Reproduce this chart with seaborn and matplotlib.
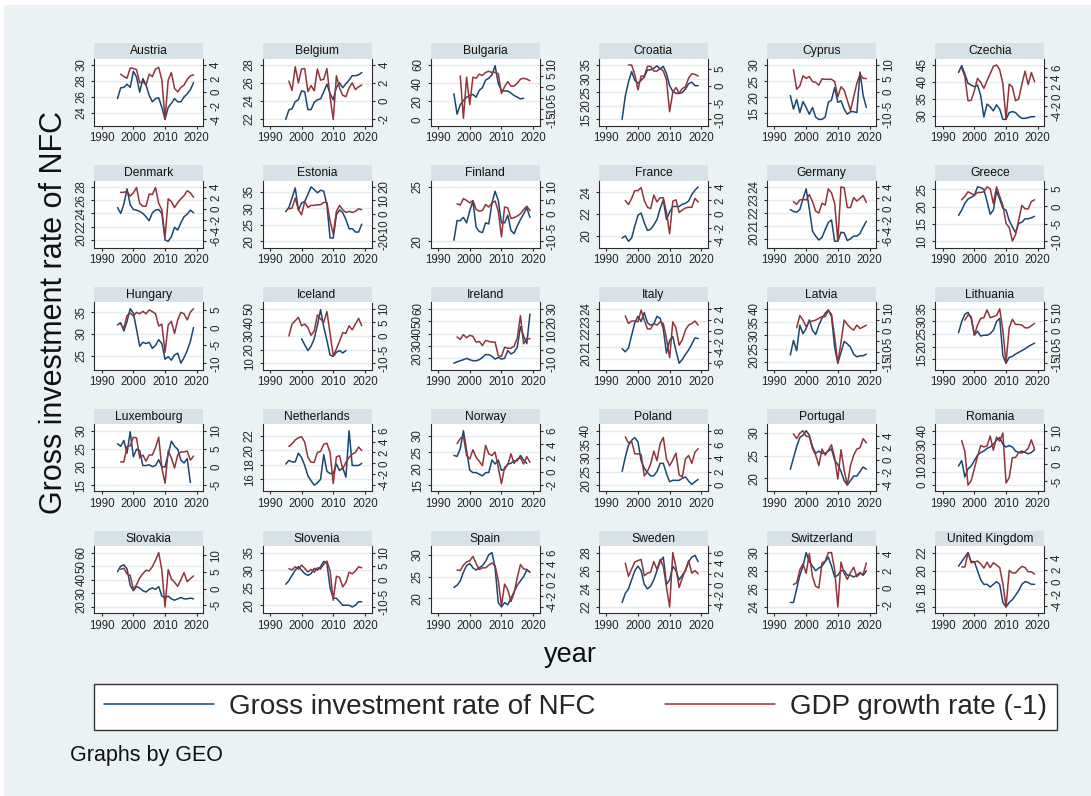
import matplotlib
matplotlib.use("Agg")
import matplotlib.pyplot as plt
from matplotlib.patches import Rectangle
import seaborn as sns

sns.set_style("white")
plt.rcParams["font.family"] = ["Liberation Sans", "DejaVu Sans"]
plt.rcParams["axes.unicode_minus"] = False

W, H = 1091, 796
NAVY = "#1A476F"
MAROON = "#90353B"
BG = "#EAF2F3"
STRIP = "#D6E2E7"
GRID = "#E3EBEE"
AXIS = "#2B2B2B"

# ---- series: investment rate of NFC (from 1995) and lagged GDP growth (from 1996) ----
austria_inv = [25.8, 27.15, 27.2, 27.6, 27.2, 29.2, 28.5, 26.6, 28.3, 27.5, 26.2, 25.4, 25.8, 25.9, 24.7, 23.2, 24.7, 25.2, 25.8, 25.4, 25.4, 26.0, 26.4, 26.9, 27.8]
austria_gdp = [2.65, 2.3, 2.05, 3.55, 3.5, 3.3, 1.4, 1.55, 1.05, 2.65, 2.3, 3.4, 3.65, 1.8, -3.95, 1.8, 2.9, 0.55, 0.05, 0.7, 1.05, 1.9, 2.4, 2.55]
austria_lt = [24, 26, 28, 30]
austria_rt = [-4, -2, 0, 2, 4]

belgium_inv = [21.9, 22.96, 23.1, 23.9, 24.1, 25.1, 25.0, 23.0, 23.0, 23.8, 24.1, 24.2, 25.0, 25.85, 24.8, 24.1, 25.5, 26.0, 25.45, 25.9, 26.3, 26.8, 26.8, 26.9, 27.15]
belgium_gdp = [2.2, 1.15, 3.8, 2.0, 3.55, 3.6, 1.0, 1.7, 1.1, 3.55, 2.3, 2.4, 3.6, 0.4, -2.1, 2.8, 1.4, 0.6, 0.45, 1.45, 2.0, 1.25, 1.55, 1.75]
belgium_lt = [22, 24, 26, 28]
belgium_rt = [-2, 0, 2, 4]

bulgaria_inv = [28.3, 5.7, 16.2, 20.8, 24.5, 26.4, 27.5, 24.5, 32.0, 35.0, 43.4, 45.3, 49.0, 59.2, 39.6, 32.0, 31.3, 31.3, 29.0, 26.4, 24.5, 22.6, 23.4]
bulgaria_gdp = [5.0, -14.5, 4.4, -8.2, 4.4, 3.9, 5.8, 5.2, 6.6, 7.1, 6.6, 6.6, 6.0, -3.1, 0.0, 2.4, 0.3, 0.3, 1.6, 3.5, 3.9, 3.5, 2.8]
bulgaria_lt = [0, 20, 40, 60]
bulgaria_rt = [-15, -10, -5, 0, 5, 10]
bulgaria_gdp_start = 1997

croatia_inv = [15.0, 23.6, 28.7, 32.6, 29.4, 28.3, 29.4, 30.6, 33.2, 33.2, 33.8, 34.7, 33.5, 34.5, 31.9, 27.4, 25.3, 24.6, 24.5, 24.9, 26.2, 28.1, 28.7, 27.4, 27.4]
croatia_gdp = [6.2, 6.2, 3.4, -1.2, 2.9, 2.9, 5.8, 5.8, 4.4, 4.4, 5.2, 4.4, 1.8, -7.7, -1.9, -0.5, -2.2, -0.8, -0.3, 2.3, 3.6, 3.4, 2.9]
croatia_lt = [15, 20, 25, 30, 35]
croatia_rt = [-10, -5, 0, 5]
croatia_gdp_start = 1997

cyprus_inv = [20.5, 16.3, 19.3, 15.2, 18.6, 16.8, 14.7, 16.8, 13.8, 13.1, 13.1, 13.8, 18.4, 19.1, 23.0, 18.4, 18.9, 16.3, 14.7, 15.5, 15.5, 15.2, 27.8, 20.5, 16.8]
cyprus_gdp = [8.25, 1.1, 2.25, 6.0, 5.1, 5.75, 3.9, 3.6, 2.6, 4.9, 4.75, 4.75, 4.75, 3.9, -1.75, 2.0, 0.75, -3.0, -6.75, -1.75, 3.25, 6.6, 5.1, 5.0]
cyprus_lt = [15, 20, 25, 30]
cyprus_rt = [-10, -5, 0, 5, 10]

czechia_inv = [42.8, 44.8, 42.4, 39.6, 39.1, 38.6, 39.1, 36.0, 29.7, 33.5, 32.7, 31.5, 33.3, 32.0, 29.0, 29.0, 31.0, 31.3, 31.0, 30.0, 29.3, 29.3, 29.5, 29.8, 29.8]
czechia_gdp = [6.0, 4.2, -0.9, -0.8, 1.2, 3.8, 3.0, 1.7, 3.3, 4.8, 6.3, 6.6, 5.6, 2.7, -4.8, 2.6, 2.0, -0.9, -0.5, 2.6, 5.3, 2.5, 5.0, 3.1]
czechia_lt = [30, 35, 40, 45]
czechia_rt = [-4, -2, 0, 2, 4, 6]

denmark_inv = [24.9, 24.0, 25.4, 27.7, 25.3, 24.6, 24.5, 24.3, 24.0, 23.5, 22.9, 24.1, 24.5, 24.6, 24.0, 20.0, 19.8, 20.5, 21.9, 21.5, 22.6, 23.5, 23.9, 24.5, 24.1]
denmark_gdp = [3.0, 3.0, 3.2, 2.3, 2.9, 3.9, 0.97, 0.45, 0.45, 2.7, 2.6, 3.9, 0.97, -0.2, -5.35, 1.8, 1.3, 0.2, 1.1, 1.8, 2.4, 3.3, 2.9, 2.1]
denmark_lt = [20, 22, 24, 26, 28]
denmark_rt = [-6, -4, -2, 0, 2, 4]

estonia_inv = [29.0, 30.3, 33.1, 36.2, 29.5, 31.6, 32.1, 34.2, 36.5, 35.7, 34.7, 35.5, 35.2, 31.1, 21.0, 21.0, 28.0, 29.5, 28.7, 26.6, 23.8, 23.8, 22.8, 22.8, 25.2]
estonia_gdp = [3.9, 4.4, 11.8, 3.2, -0.5, 9.3, 4.9, 6.4, 6.4, 6.9, 6.9, 8.6, 8.6, -5.0, -14.7, 2.0, 6.4, 3.2, 1.2, 2.0, 1.2, 2.0, 3.9, 3.2]
estonia_lt = [20, 25, 30, 35]
estonia_rt = [-20, -10, 0, 10, 20]

finland_inv = [20.1, 21.9, 21.9, 22.2, 21.7, 22.8, 23.7, 21.3, 20.9, 20.8, 21.7, 21.6, 23.5, 24.6, 23.75, 21.7, 21.7, 22.4, 21.0, 20.7, 21.4, 22.0, 22.5, 23.1, 22.2]
finland_gdp = [3.8, 3.3, 5.7, 5.0, 4.1, 5.0, 1.7, 1.1, 1.3, 3.5, 2.6, 4.1, 4.8, 1.1, -8.4, 2.6, 2.3, -1.6, -1.3, -0.7, 0.1, 1.7, 2.9, 1.3]
finland_lt = [20, 25]
finland_rt = [-10, -5, 0, 5, 10]

france_inv = [19.8, 20.0, 19.5, 19.8, 20.9, 21.9, 22.1, 21.2, 20.5, 20.6, 21.0, 21.5, 22.5, 23.3, 21.5, 22.2, 22.7, 22.7, 22.7, 22.9, 23.0, 23.2, 23.8, 24.2, 24.5]
france_gdp = [2.0, 1.4, 2.3, 3.45, 3.45, 3.9, 2.0, 1.0, 0.8, 2.8, 1.8, 2.4, 2.4, 0.25, -2.9, 1.9, 2.1, 0.25, 0.6, 0.9, 1.0, 1.0, 2.3, 1.8]
france_lt = [20, 22, 24]
france_rt = [-4, -2, 0, 2, 4]

germany_inv = [22.25, 22.1, 22.05, 22.25, 23.1, 23.85, 22.3, 20.6, 20.2, 19.9, 20.1, 20.7, 21.25, 21.45, 19.8, 19.8, 20.5, 20.45, 19.85, 20.0, 20.2, 20.2, 20.4, 20.9, 21.35]
germany_gdp = [1.3, 0.8, 1.6, 1.7, 1.6, 2.6, 1.3, -0.45, -0.8, 1.0, 0.65, 3.65, 2.9, 1.0, -5.95, 4.0, 3.85, 0.2, 0.2, 2.05, 1.4, 1.9, 2.4, 1.15]
germany_lt = [20, 21, 22, 23, 24]
germany_rt = [-6, -4, -2, 0, 2, 4]

greece_inv = [17.5, 19.0, 21.0, 22.2, 22.7, 23.2, 25.7, 25.5, 25.0, 21.5, 17.8, 19.0, 24.5, 22.2, 19.5, 19.0, 16.0, 14.2, 12.5, 15.2, 15.5, 16.5, 16.5, 16.8, 17.2]
greece_gdp = [1.9, 2.9, 4.2, 3.7, 3.2, 4.0, 4.0, 4.2, 5.6, 5.1, 0.8, 5.6, 2.9, 0.3, -4.9, -6.0, -9.9, -8.1, -3.9, 0.3, -0.7, -0.7, 1.4, 1.9]
greece_lt = [10, 15, 20, 25]
greece_rt = [-10, -5, 0, 5]

hungary_inv = [32.1, 32.6, 30.7, 32.9, 35.8, 34.8, 31.1, 27.2, 28.1, 27.8, 28.1, 26.7, 27.4, 28.7, 27.8, 24.2, 24.8, 24.0, 25.2, 25.6, 23.3, 24.6, 26.2, 28.3, 31.5]
hungary_gdp = [1.0, -0.3, 3.3, 4.0, 3.2, 4.2, 3.8, 4.5, 3.8, 4.9, 4.4, 3.8, 0.4, 0.9, -7.0, 0.7, 1.7, -1.7, 2.1, 4.2, 3.8, 2.1, 4.3, 5.2]
hungary_lt = [25, 30, 35]
hungary_rt = [-10, -5, 0, 5]

iceland_inv = [28.0, 23.5, 19.3, 22.5, 28.0, 38.0, 49.3, 36.8, 26.8, 16.0, 15.0, 18.0, 19.3, 17.5, 19.3]
iceland_gdp = [0.0, 4.4, 5.6, 6.9, 3.75, 4.4, 3.1, 0.25, 1.9, 7.75, 6.25, 5.0, 9.0, 1.0, -7.25, -4.75, -1.9, 1.25, 1.0, 3.75, 2.25, 4.4, 6.5, 3.75]
iceland_lt = [10, 20, 30, 40, 50]
iceland_rt = [-10, -5, 0, 5, 10]
iceland_inv_start = 2000

ireland_inv = [16.1, 17.2, 18.1, 18.9, 20.0, 18.9, 18.1, 18.1, 18.9, 20.8, 23.0, 23.0, 21.7, 19.4, 20.8, 19.4, 20.0, 26.3, 23.6, 25.0, 29.1, 45.6, 38.0, 31.8, 55.8]
ireland_gdp = [9.25, 7.5, 11.0, 8.75, 10.5, 9.75, 5.5, 6.0, 3.0, 6.75, 6.0, 5.5, 5.5, -4.5, -5.0, 1.75, 1.0, 1.0, 2.5, 8.5, 25.0, 4.25, 8.0, 8.0]
ireland_lt = [20, 30, 40, 50, 60]
ireland_rt = [-10, 0, 10, 20, 30]

italy_inv = [20.85, 20.6, 20.9, 21.9, 22.9, 23.4, 23.0, 23.7, 22.9, 22.7, 22.8, 23.4, 23.25, 22.4, 20.5, 21.5, 21.8, 20.7, 19.7, 20.0, 20.4, 20.75, 21.2, 21.7, 21.65]
italy_gdp = [2.7, 1.3, 1.75, 1.75, 1.6, 3.75, 1.9, 0.3, 0.3, 1.3, 1.0, 1.6, 1.3, -1.5, -5.0, 1.6, 0.5, -2.7, -1.7, 0.1, 1.0, 1.3, 1.75, 1.0]
italy_lt = [20, 21, 22, 23, 24]
italy_rt = [-6, -4, -2, 0, 2, 4]

latvia_inv = [22.6, 28.1, 24.2, 33.8, 30.6, 32.6, 35.8, 31.9, 30.3, 33.8, 36.4, 38.3, 39.6, 37.1, 25.5, 19.5, 23.6, 27.7, 26.8, 25.5, 22.9, 21.9, 22.3, 22.3, 22.9]
latvia_gdp = [1.25, 6.9, 4.8, 1.7, 4.1, 4.4, 4.8, 5.6, 6.4, 6.4, 9.1, 7.5, -3.0, -15.0, -5.3, 4.8, 2.8, 1.25, 0.2, 2.5, 0.9, 1.7, 2.5]
latvia_lt = [20, 25, 30, 35, 40]
latvia_rt = [-15, -10, -5, 0, 5, 10]
latvia_gdp_start = 1997

lithuania_inv = [25.5, 29.9, 32.8, 33.6, 31.2, 24.5, 26.1, 24.2, 24.5, 24.5, 25.1, 26.5, 29.9, 31.2, 16.4, 13.4, 15.7, 16.1, 17.0, 17.7, 18.4, 19.1, 20.0, 20.7, 21.35]
lithuania_gdp = [4.8, 7.2, 6.4, -1.9, 2.5, 5.6, 5.9, 9.5, 5.9, 6.4, 6.9, 10.0, 0.2, -15.0, 1.25, 5.2, 2.8, 2.8, 2.5, 1.25, 1.25, 2.2, 3.3]
lithuania_lt = [15, 20, 25, 30, 35]
lithuania_rt = [-15, -10, -5, 0, 5, 10]
lithuania_gdp_start = 1997

luxembourg_inv = [26.4, 25.7, 27.3, 23.8, 29.7, 22.8, 24.9, 24.5, 20.4, 20.4, 20.6, 20.1, 20.4, 22.0, 20.0, 20.0, 23.6, 27.1, 25.7, 24.9, 21.9, 21.1, 22.3, 15.7]
luxembourg_gdp = [1.4, 1.4, 5.6, 5.85, 8.2, 8.0, 2.5, 3.3, 1.6, 3.3, 3.3, 5.4, 8.2, -0.3, -4.5, 4.4, 2.5, -0.3, 3.3, 4.15, 4.15, 4.4, 1.9, 3.0]
luxembourg_lt = [15, 20, 25, 30]
luxembourg_rt = [-5, 0, 5, 10]

netherlands_inv = [18.1, 18.6, 18.4, 18.4, 19.6, 19.0, 17.9, 16.5, 15.8, 15.2, 15.5, 16.0, 19.4, 17.1, 16.8, 16.8, 18.1, 17.2, 17.6, 16.3, 22.7, 17.9, 17.9, 17.9, 18.2]
netherlands_gdp = [3.1, 3.6, 4.3, 4.7, 4.9, 3.9, 1.1, 0.2, 0.2, 2.0, 2.2, 3.5, 3.7, 2.0, -3.7, 1.2, 1.4, -1.05, 0.2, 1.1, 1.7, 2.0, 3.0, 2.35]
netherlands_lt = [16, 18, 20, 22]
netherlands_rt = [-4, -2, 0, 2, 4, 6]

norway_inv = [24.0, 23.7, 26.0, 31.5, 25.5, 19.5, 18.8, 18.8, 18.3, 17.8, 18.8, 18.8, 22.6, 21.4, 22.6, 19.5, 19.8, 21.4, 21.6, 22.4, 22.4, 24.0, 22.6, 21.6]
norway_gdp = [4.1, 4.85, 5.2, 2.35, 1.85, 3.2, 2.1, 1.5, 0.85, 3.85, 2.6, 2.35, 2.85, 0.6, -1.8, 0.6, 1.0, 2.6, 1.2, 1.85, 2.0, 1.1, 2.2, 1.35]
norway_lt = [15, 20, 25, 30]
norway_rt = [-2, 0, 2, 4, 6]

poland_inv = [25.0, 30.25, 34.6, 36.5, 37.5, 35.9, 29.0, 26.25, 24.6, 23.4, 23.4, 25.0, 28.0, 28.0, 24.25, 21.25, 21.75, 21.75, 21.75, 22.5, 23.0, 21.5, 20.25, 21.25, 22.1]
poland_gdp = [7.1, 6.2, 6.45, 4.6, 4.6, 4.5, 1.35, 2.0, 3.1, 5.0, 3.6, 6.1, 7.0, 3.85, 2.85, 3.7, 4.7, 1.5, 1.2, 3.85, 4.35, 3.2, 4.85, 5.35]
poland_lt = [20, 25, 30, 35, 40]
poland_rt = [0, 2, 4, 6, 8]

portugal_inv = [22.0, 24.5, 27.0, 29.0, 29.5, 30.5, 29.5, 27.0, 25.5, 26.0, 25.5, 25.5, 26.0, 26.5, 24.0, 23.0, 21.5, 19.5, 18.5, 19.5, 20.5, 20.5, 21.5, 22.5, 22.0]
portugal_gdp = [4.3, 3.5, 4.4, 4.8, 3.9, 3.8, 1.9, 0.8, -0.9, 1.8, 0.8, 1.6, 2.5, 0.3, -3.1, 1.7, -1.7, -4.1, -0.9, 0.8, 1.8, 2.0, 3.5, 2.8]
portugal_lt = [20, 25, 30]
portugal_rt = [-4, -2, 0, 2, 4]

romania_inv = [14.0, 18.0, 6.0, 12.0, 14.0, 18.0, 22.0, 24.0, 25.0, 27.0, 28.0, 30.0, 33.0, 35.0, 30.0, 28.0, 29.0, 28.0, 25.0, 24.0, 25.0, 24.0, 23.0, 24.0, 26.0]
romania_gdp = [7.1, 3.9, -6.1, -4.8, -1.2, 2.4, 5.6, 5.2, 5.5, 8.4, 4.2, 8.1, 6.9, 9.3, -5.5, -3.9, 2.0, 2.1, 3.5, 3.4, 3.9, 4.8, 7.3, 4.5]
romania_lt = [0, 10, 20, 30, 40]
romania_rt = [-5, 0, 5, 10]

slovakia_inv = [46.0, 50.0, 51.0, 48.0, 36.0, 32.0, 35.0, 34.0, 32.0, 31.0, 33.0, 34.0, 33.0, 35.0, 28.0, 27.0, 28.0, 26.0, 25.0, 26.0, 27.0, 26.0, 26.0, 26.5, 26.0]
slovakia_gdp = [5.8, 6.1, 4.4, 4.0, -0.2, 1.2, 3.2, 4.5, 5.5, 5.3, 6.6, 8.5, 10.8, 5.6, -5.5, 5.7, 2.9, 1.9, 0.7, 2.7, 4.8, 2.1, 3.0, 3.8]
slovakia_lt = [20, 30, 40, 50, 60]
slovakia_rt = [-5, 0, 5, 10]

slovenia_inv = [26.0, 27.0, 28.5, 30.0, 31.0, 30.0, 29.0, 28.5, 29.0, 30.5, 30.0, 31.0, 32.5, 32.0, 25.0, 22.0, 22.0, 21.0, 20.0, 20.0, 20.0, 19.5, 20.0, 21.0, 21.0]
slovenia_gdp = [4.1, 3.6, 4.8, 3.9, 5.4, 4.2, 2.9, 3.8, 2.8, 4.4, 4.0, 5.7, 6.9, 3.3, -7.5, 1.3, 0.9, -2.6, -1.0, 2.8, 2.2, 3.2, 4.8, 4.4]
slovenia_lt = [20, 25, 30, 35]
slovenia_rt = [-10, -5, 0, 5, 10]

spain_inv = [22.5, 23.0, 24.0, 26.0, 27.5, 28.0, 27.0, 26.5, 27.0, 27.5, 28.5, 30.0, 30.5, 27.0, 19.0, 18.0, 19.0, 18.5, 20.0, 21.5, 23.0, 24.0, 25.0, 26.5, 26.0]
spain_gdp = [2.8, 2.7, 3.7, 4.3, 4.5, 5.3, 4.0, 2.9, 3.2, 3.2, 3.7, 4.1, 3.6, 0.9, -3.8, 0.2, -0.8, -3.0, -1.4, 1.4, 3.8, 3.0, 2.9, 2.4]
spain_lt = [20, 25, 30]
spain_rt = [-4, -2, 0, 2, 4, 6]

sweden_inv = [22.5, 23.5, 24.0, 25.0, 26.0, 26.5, 26.0, 24.5, 24.0, 24.3, 25.0, 26.0, 27.0, 27.5, 24.5, 25.0, 26.5, 26.0, 25.0, 25.5, 26.0, 27.0, 27.5, 27.7, 27.0]
sweden_gdp = [4.0, 1.5, 2.9, 4.2, 4.5, 4.7, 1.6, 2.1, 2.3, 4.3, 2.8, 4.7, 3.4, -0.5, -4.3, 6.0, 3.2, -0.6, 1.2, 2.7, 4.5, 2.1, 2.6, 2.0]
sweden_lt = [22, 24, 26, 28]
sweden_rt = [-4, -2, 0, 2, 4, 6]

switzerland_inv = [24.5, 24.5, 26.0, 27.5, 28.5, 30.0, 29.0, 28.5, 28.0, 28.3, 28.5, 29.0, 29.5, 28.5, 27.3, 27.5, 28.0, 28.0, 27.5, 27.5, 27.3, 27.5, 27.8, 27.5, 28.0]
switzerland_gdp = [0.4, 0.6, 2.1, 2.8, 1.7, 4.0, 1.3, 0.2, 0.0, 2.9, 3.1, 4.1, 4.1, 2.1, -2.2, 3.0, 1.7, 1.0, 1.8, 2.4, 1.3, 1.7, 1.6, 2.9]
switzerland_lt = [24, 26, 28, 30]
switzerland_rt = [-2, 0, 2, 4]

uk_inv = [20.5, 21.0, 21.5, 22.0, 21.0, 21.0, 20.0, 19.0, 18.5, 18.5, 18.2, 18.5, 18.8, 18.5, 16.5, 16.0, 16.5, 16.8, 17.3, 17.8, 18.5, 18.8, 18.7, 18.5, 18.5]
uk_gdp = [2.5, 2.5, 4.9, 3.2, 3.3, 3.5, 3.0, 2.3, 3.3, 2.4, 3.2, 2.8, 2.4, -0.3, -4.2, 1.9, 1.5, 1.5, 2.1, 2.6, 2.4, 1.7, 1.7, 1.3]
uk_lt = [16, 18, 20, 22]
uk_rt = [-4, -2, 0, 2, 4]

INV_START = 1995
GDP_START = 1996

panels = [
    ("Austria", austria_inv, INV_START, austria_gdp, GDP_START, austria_lt, austria_rt),
    ("Belgium", belgium_inv, INV_START, belgium_gdp, GDP_START, belgium_lt, belgium_rt),
    ("Bulgaria", bulgaria_inv, INV_START, bulgaria_gdp, bulgaria_gdp_start, bulgaria_lt, bulgaria_rt),
    ("Croatia", croatia_inv, INV_START, croatia_gdp, croatia_gdp_start, croatia_lt, croatia_rt),
    ("Cyprus", cyprus_inv, INV_START, cyprus_gdp, GDP_START, cyprus_lt, cyprus_rt),
    ("Czechia", czechia_inv, INV_START, czechia_gdp, GDP_START, czechia_lt, czechia_rt),
    ("Denmark", denmark_inv, INV_START, denmark_gdp, GDP_START, denmark_lt, denmark_rt),
    ("Estonia", estonia_inv, INV_START, estonia_gdp, GDP_START, estonia_lt, estonia_rt),
    ("Finland", finland_inv, INV_START, finland_gdp, GDP_START, finland_lt, finland_rt),
    ("France", france_inv, INV_START, france_gdp, GDP_START, france_lt, france_rt),
    ("Germany", germany_inv, INV_START, germany_gdp, GDP_START, germany_lt, germany_rt),
    ("Greece", greece_inv, INV_START, greece_gdp, GDP_START, greece_lt, greece_rt),
    ("Hungary", hungary_inv, INV_START, hungary_gdp, GDP_START, hungary_lt, hungary_rt),
    ("Iceland", iceland_inv, iceland_inv_start, iceland_gdp, GDP_START, iceland_lt, iceland_rt),
    ("Ireland", ireland_inv, INV_START, ireland_gdp, GDP_START, ireland_lt, ireland_rt),
    ("Italy", italy_inv, INV_START, italy_gdp, GDP_START, italy_lt, italy_rt),
    ("Latvia", latvia_inv, INV_START, latvia_gdp, latvia_gdp_start, latvia_lt, latvia_rt),
    ("Lithuania", lithuania_inv, INV_START, lithuania_gdp, lithuania_gdp_start, lithuania_lt, lithuania_rt),
    ("Luxembourg", luxembourg_inv, INV_START, luxembourg_gdp, GDP_START, luxembourg_lt, luxembourg_rt),
    ("Netherlands", netherlands_inv, INV_START, netherlands_gdp, GDP_START, netherlands_lt, netherlands_rt),
    ("Norway", norway_inv, INV_START, norway_gdp, GDP_START, norway_lt, norway_rt),
    ("Poland", poland_inv, INV_START, poland_gdp, GDP_START, poland_lt, poland_rt),
    ("Portugal", portugal_inv, INV_START, portugal_gdp, GDP_START, portugal_lt, portugal_rt),
    ("Romania", romania_inv, INV_START, romania_gdp, GDP_START, romania_lt, romania_rt),
    ("Slovakia", slovakia_inv, INV_START, slovakia_gdp, GDP_START, slovakia_lt, slovakia_rt),
    ("Slovenia", slovenia_inv, INV_START, slovenia_gdp, GDP_START, slovenia_lt, slovenia_rt),
    ("Spain", spain_inv, INV_START, spain_gdp, GDP_START, spain_lt, spain_rt),
    ("Sweden", sweden_inv, INV_START, sweden_gdp, GDP_START, sweden_lt, sweden_rt),
    ("Switzerland", switzerland_inv, INV_START, switzerland_gdp, GDP_START, switzerland_lt, switzerland_rt),
    ("United Kingdom", uk_inv, INV_START, uk_gdp, GDP_START, uk_lt, uk_rt),
]

XTICKS = [1990, 2000, 2010, 2020]
TICK_FS = 8.3


def padded_limits(values, ticks, margin=0.094):
    """Axis range covering data and ticks, with a fixed inner margin."""
    lo = min(min(values), min(ticks))
    hi = max(max(values), max(ticks))
    pad = (hi - lo) * margin / (1 - 2 * margin)
    return lo - pad, hi + pad


fig = plt.figure(figsize=(W / 100, H / 100), dpi=100)
fig.patch.set_facecolor("white")
fig.add_artist(Rectangle((4 / W, 0), 1 - 4 / W, 1 - 5 / H, transform=fig.transFigure,
                         facecolor=BG, edgecolor="none", zorder=-10))

PW, PH, HDR = 109.0, 67.0, 15.5
handles = None

for k, (name, inv, inv_start, gdp, gdp_start, lt, rt) in enumerate(panels):
    col, row = k % 6, k // 6
    x0 = 94.3 + 168.2 * col
    yb = 125.7 + 121.9 * row
    ax = fig.add_axes([x0 / W, 1 - yb / H, PW / W, PH / H])
    ax.set_facecolor("white")

    inv_years = list(range(inv_start, inv_start + len(inv)))
    gdp_years = list(range(gdp_start, gdp_start + len(gdp)))

    sns.lineplot(x=inv_years, y=inv, ax=ax, color=NAVY, linewidth=1.1)
    ax2 = ax.twinx()
    sns.lineplot(x=gdp_years, y=gdp, ax=ax2, color=MAROON, linewidth=1.1)

    ax.set_xlim(1987.67, 2022.08)
    ax.set_xticks(XTICKS)
    ax.set_xticklabels([str(t) for t in XTICKS])
    ax.set_ylim(*padded_limits(inv, lt))
    ax.set_yticks(lt)
    ax.set_yticklabels([str(t) for t in lt])
    ax2.set_ylim(*padded_limits(gdp, rt))
    ax2.set_yticks(rt)
    ax2.set_yticklabels([str(t) for t in rt])
    ax.set_xlabel("")
    ax.set_ylabel("")
    ax2.set_ylabel("")

    ax.grid(False)
    ax2.grid(False)
    ax.yaxis.grid(True, color=GRID, linewidth=1.0)
    ax.set_axisbelow(True)

    for a in (ax, ax2):
        for s in a.spines.values():
            s.set_visible(False)
    for side in ("left", "bottom"):
        ax.spines[side].set_visible(True)
        ax.spines[side].set_color(AXIS)
        ax.spines[side].set_linewidth(0.8)
    ax2.spines["right"].set_visible(True)
    ax2.spines["right"].set_color(AXIS)
    ax2.spines["right"].set_linewidth(0.8)

    ax.tick_params(axis="x", direction="out", length=2.4, width=0.8, color=AXIS,
                   labelsize=TICK_FS, pad=2.2, bottom=True)
    ax.tick_params(axis="y", direction="out", length=2.4, width=0.8, color=AXIS,
                   labelsize=TICK_FS, pad=2.5, left=True, labelrotation=90)
    ax2.tick_params(axis="y", direction="out", length=2.4, width=0.8, color=AXIS,
                    labelsize=TICK_FS, pad=2.5, right=True, labelrotation=90)
    for lbl in ax.get_yticklabels():
        lbl.set_va("center")
        lbl.set_ha("right")
    for lbl in ax2.get_yticklabels():
        lbl.set_va("center")
        lbl.set_ha("left")

    ax.add_patch(Rectangle((0, 1), 1, HDR / PH, transform=ax.transAxes, clip_on=False,
                           facecolor=STRIP, edgecolor="none"))
    ax.text(0.5, 1 + HDR / PH / 2, name, transform=ax.transAxes, ha="center",
            va="center", fontsize=8.7, color="#111111")

    if handles is None:
        handles = [ax.get_lines()[0], ax2.get_lines()[0]]

fig.text(54 / W, 1 - 312 / H, "Gross investment rate of NFC", rotation=90,
         ha="center", va="center", fontsize=22, color="#111111")
fig.text(570 / W, 1 - 655 / H, "year", ha="center", va="center",
         fontsize=19.5, color="#111111")

leg = fig.legend(handles, ["Gross investment rate of NFC", "GDP growth rate (-1)"],
                 loc="center", bbox_to_anchor=(575.5 / W, 1 - 706.5 / H), ncol=2,
                 fontsize=20, frameon=True, fancybox=False, edgecolor="#333333",
                 facecolor="white", framealpha=1, handlelength=3.95, handletextpad=0.55,
                 columnspacing=2.5, borderpad=0.36)
leg.get_frame().set_linewidth(1.0)

fig.text(70 / W, 1 - 755 / H, "Graphs by GEO", ha="left", va="center",
         fontsize=15.5, color="#111111")

fig.savefig("out.png", dpi=100, facecolor=fig.get_facecolor())
